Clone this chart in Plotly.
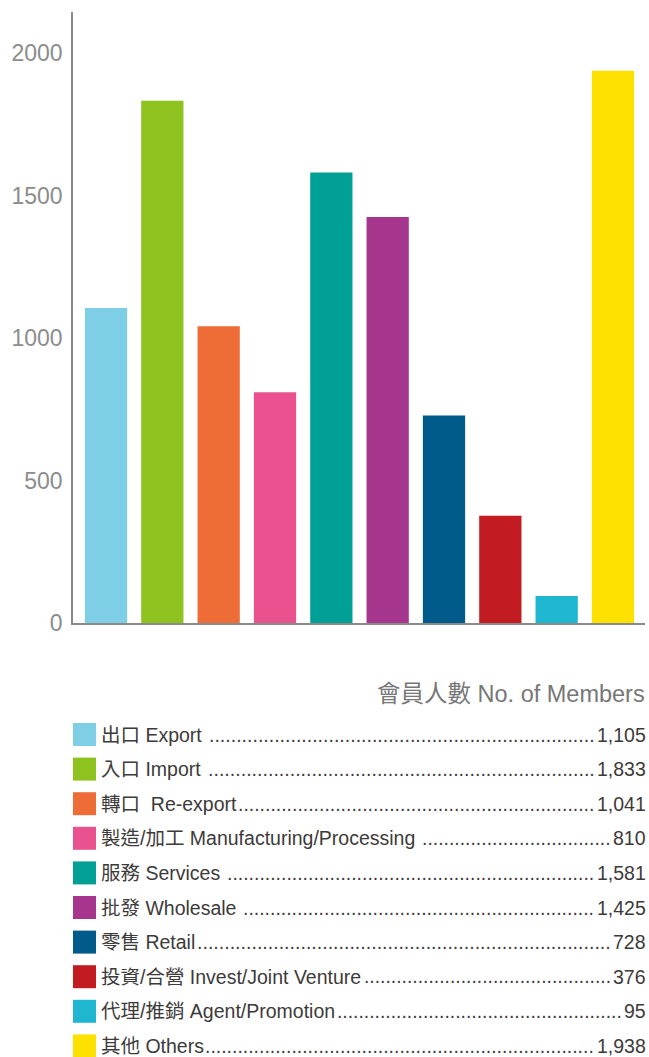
import plotly.graph_objects as go

categories_zh = ["出口", "入口", "轉口 ", "製造/加工", "服務", "批發", "零售", "投資/合營", "代理/推銷", "其他"]
categories_en = ["Export", "Import", "Re-export", "Manufacturing/Processing", "Services",
                 "Wholesale", "Retail", "Invest/Joint Venture", "Agent/Promotion", "Others"]
leader_gap = [" ", " ", "", " ", " ", " ", "", "", "", ""]
members = [1105, 1833, 1041, 810, 1581, 1425, 728, 376, 95, 1938]
colors = ["#7ECEE6", "#8DC21F", "#EE6C36", "#E9528E", "#00A096",
          "#A6368D", "#005B8A", "#C21B22", "#1EB7CF", "#FFE100"]
tick_vals = [0, 500, 1000, 1500, 2000]
legend_title = "會員人數 No. of Members"

W, H = 649, 1057
L, R, T, B = 73, 4, 12, 434
PW, PH = W - L - R, H - T - B


def px(x):
    return (x - L) / PW


def py(y):
    return (H - B - y) / PH


# Arial / Liberation Sans advance widths (per 1000 em)
AW = {' ': 278, '.': 278, ',': 278, '/': 278, '-': 333,
      'A': 667, 'B': 667, 'C': 722, 'D': 722, 'E': 667, 'F': 611, 'G': 778, 'H': 722,
      'I': 278, 'J': 500, 'K': 667, 'L': 556, 'M': 833, 'N': 722, 'O': 778, 'P': 667,
      'Q': 778, 'R': 722, 'S': 667, 'T': 611, 'U': 722, 'V': 667, 'W': 944, 'X': 667,
      'Y': 667, 'Z': 611,
      'a': 556, 'b': 556, 'c': 500, 'd': 556, 'e': 556, 'f': 278, 'g': 556, 'h': 556,
      'i': 222, 'j': 222, 'k': 500, 'l': 222, 'm': 833, 'n': 556, 'o': 556, 'p': 556,
      'q': 556, 'r': 333, 's': 500, 't': 278, 'u': 556, 'v': 500, 'w': 722, 'x': 500,
      'y': 500, 'z': 500}


def text_w(s, size):
    tot = 0
    for ch in s:
        if ch.isdigit():
            tot += 556
        elif ch in AW:
            tot += AW[ch]
        else:
            tot += 1000
    return tot * size / 1000.0


FONT = "Liberation Sans, Arial, Noto Sans CJK TC, sans-serif"
TXT = "#3d3a3a"
FS = 19.5

fig = go.Figure(go.Bar(
    x=list(range(len(members))),
    y=members,
    marker=dict(color=colors, line=dict(width=0)),
    width=0.75,
    hoverinfo="y",
))

fig.update_layout(
    width=W, height=H,
    margin=dict(l=L, r=R, t=T, b=B, pad=0),
    paper_bgcolor="white", plot_bgcolor="white",
    showlegend=False,
    font=dict(family=FONT),
    xaxis=dict(range=[-0.586, 9.568], showticklabels=False, showgrid=False, zeroline=False,
               showline=True, linecolor="#8a8a8a", linewidth=1.5, ticks=""),
    yaxis=dict(range=[0, 2144], tickvals=tick_vals, showgrid=False, zeroline=False,
               showline=True, linecolor="#8a8a8a", linewidth=1.5, ticks="",
               tickfont=dict(size=23, color="#8c8c8c", family=FONT),
               ticklabelstandoff=4),
)

shapes = []
annotations = []
annotations.append(dict(xref="paper", yref="paper", x=px(647), y=py(694),
                        xanchor="right", yanchor="middle", showarrow=False, borderpad=1,
                        text=legend_title, font=dict(size=23.5, color="#777777", family=FONT)))

row0, step = 734.5, 34.6
text_x = 103
right_x = 645
dot_w = text_w(".", FS)
for i, (zh, en, g, v, c) in enumerate(zip(categories_zh, categories_en, leader_gap, members, colors)):
    yc = row0 + i * step
    shapes.append(dict(type="rect", xref="paper", yref="paper",
                       x0=px(73), x1=px(96), y0=py(yc - 11.5), y1=py(yc + 11.5),
                       fillcolor=c, line=dict(width=0)))
    label = f"{zh} {en}"
    val = f"{v:,}"
    dots_right = right_x - text_w(val, FS) - 0.5
    dots_left = text_x + text_w(label + g, FS) + 0.5
    avail = dots_right - dots_left
    n = max(1, int(round(avail / dot_w)))
    dot_fs = avail / (n * 0.278)
    annotations.append(dict(xref="paper", yref="paper", x=px(text_x - 3), y=py(yc),
                            xanchor="left", yanchor="middle", showarrow=False, borderpad=0,
                            text=label, font=dict(size=FS, color=TXT, family=FONT)))
    annotations.append(dict(xref="paper", yref="paper", x=px(dots_left - 2), y=py(yc),
                            xanchor="left", yanchor="middle", showarrow=False, borderpad=0,
                            text="." * n, font=dict(size=dot_fs, color=TXT, family=FONT)))
    annotations.append(dict(xref="paper", yref="paper", x=px(right_x + 2), y=py(yc),
                            xanchor="right", yanchor="middle", showarrow=False, borderpad=0,
                            text=val, font=dict(size=FS, color=TXT, family=FONT)))

fig.update_layout(shapes=shapes, annotations=annotations)
fig.write_html("out.html")
